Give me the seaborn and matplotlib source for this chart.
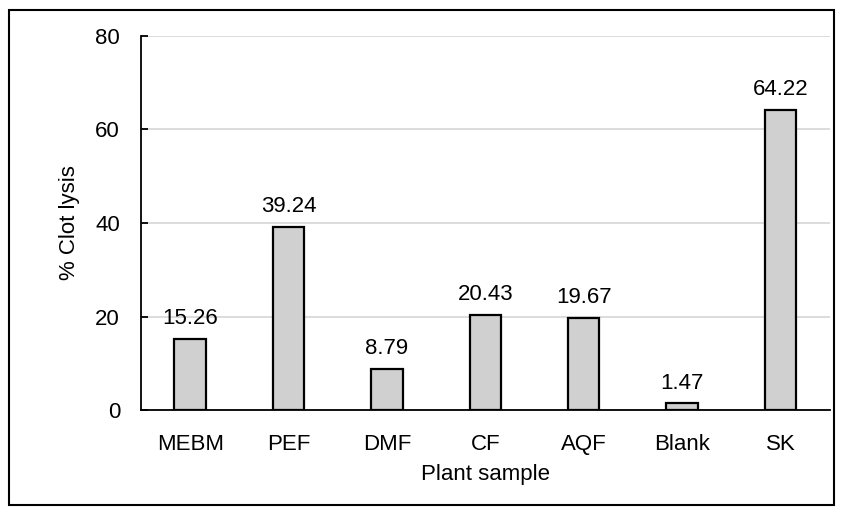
import matplotlib
matplotlib.use("Agg")
import matplotlib.pyplot as plt
import seaborn as sns
import pandas as pd
from matplotlib.patches import Rectangle

samples = ["MEBM", "PEF", "DMF", "CF", "AQF", "Blank", "SK"]
clot_lysis = [15.26, 39.24, 8.79, 20.43, 19.67, 1.47, 64.22]
y_ticks = [0, 20, 40, 60, 80]

df = pd.DataFrame({"sample": samples, "lysis": clot_lysis})

sns.set_style("white")
plt.rcParams["font.family"] = ["Liberation Sans", "DejaVu Sans"]
plt.rcParams["text.color"] = "black"
plt.rcParams["axes.labelcolor"] = "black"
plt.rcParams["xtick.color"] = "black"
plt.rcParams["ytick.color"] = "black"

fig = plt.figure(figsize=(8.44, 5.12), dpi=100)
ax = fig.add_axes([0.167, 0.199, 0.816, 0.731])

sns.barplot(data=df, x="sample", y="lysis", color="#d0d0d0", width=0.32,
            edgecolor="black", linewidth=1.6, saturation=1, ax=ax, zorder=3)

# value labels above each bar
for c in ax.containers:
    ax.bar_label(c, labels=[f"{v:.2f}" for v in clot_lysis], padding=7, fontsize=16)

ax.set_ylim(0, 80)
ax.set_yticks(y_ticks)
ax.set_xlim(-0.5, len(samples) - 0.5)
ax.yaxis.grid(True, color="#d9d9d9", linewidth=1.3, zorder=0)
ax.set_axisbelow(True)

for s in ["top", "right"]:
    ax.spines[s].set_visible(False)
for s in ["left", "bottom"]:
    ax.spines[s].set_color("black")
    ax.spines[s].set_linewidth(1.3)

ax.tick_params(axis="y", left=True, direction="in", length=5, width=1.3, labelsize=16, pad=15)
ax.tick_params(axis="x", bottom=False, labelsize=16, pad=14)
ax.set_xlabel("Plant sample", fontsize=16, labelpad=6)
ax.set_ylabel("% Clot lysis", fontsize=16, labelpad=11)

# frame around the whole chart
fig.patches.append(Rectangle((9 / 844, 7 / 512), 825 / 844, 495 / 512,
                             transform=fig.transFigure, fill=False,
                             edgecolor="black", linewidth=1.5))

fig.savefig("out.png", dpi=100)
